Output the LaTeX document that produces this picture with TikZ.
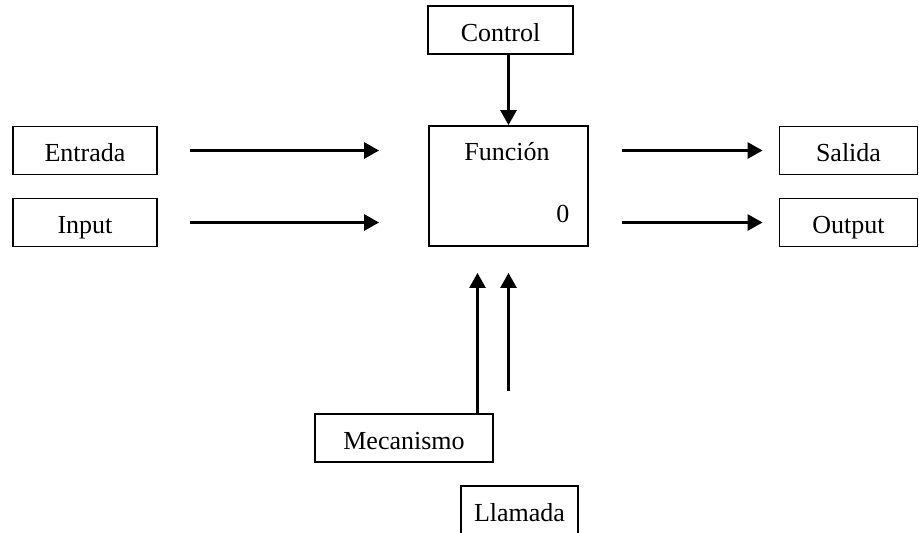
\documentclass[tikz,border=0pt]{standalone}
\usepackage{fontspec}
\setmainfont{Liberation Serif}
\usetikzlibrary{arrows.meta}

\begin{document}
\begin{tikzpicture}[x=1pt,y=-1pt,font=\fontsize{26}{30}\selectfont,
  caja/.style={draw,line width=1.8pt,minimum height=48pt,inner sep=0pt,
    text height=22pt,text depth=0pt},
  flecha/.style={line width=2.6pt,-{Triangle[length=15pt,width=16pt]}}]
\useasboundingbox (0,0) rectangle (919,533);

\node[caja,minimum width=145pt] (control) at (500.5,30) {Control};
\node[caja,minimum width=144pt] (entrada) at (85,150.5) {Entrada};
\node[caja,minimum width=144pt] (input) at (85,222.5) {Input};
\node[caja,minimum width=159pt,minimum height=120pt] (funcion) at (508.5,186) {};
\node[caja,minimum width=138pt] (salida) at (848.5,150.5) {Salida};
\node[caja,minimum width=138pt] (output) at (848.5,222.5) {Output};
\node[caja,minimum width=178pt] (mecanismo) at (404,438) {Mecanismo};
\node[caja,minimum width=117pt] (llamada) at (519.5,510) {Llamada};

\node[anchor=base] (titulo) at ([xshift=-1.5pt,yshift=-35pt]funcion.north) {Función};
\node[anchor=base] (cero) at ([xshift=-26pt,yshift=24pt]funcion.south east) {0};

\draw[flecha] (funcion.north |- control.south) -- (funcion.north);
\draw[flecha,shorten <=32pt,shorten >=49pt] (entrada.east) -- (entrada.east -| funcion.west);
\draw[flecha,shorten <=32pt,shorten >=49pt] (input.east) -- (input.east -| funcion.west);
\draw[flecha,shorten <=33pt,shorten >=16pt] (funcion.east |- salida.west) -- (salida.west);
\draw[flecha,shorten <=33pt,shorten >=16pt] (funcion.east |- output.west) -- (output.west);
\draw[flecha,shorten >=26pt] ([xshift=-31pt]funcion.south |- mecanismo.north) -- ([xshift=-31pt]funcion.south);
\draw[flecha,shorten <=94pt,shorten >=26pt] (funcion.south |- llamada.north) -- (funcion.south);

\end{tikzpicture}
\end{document}
